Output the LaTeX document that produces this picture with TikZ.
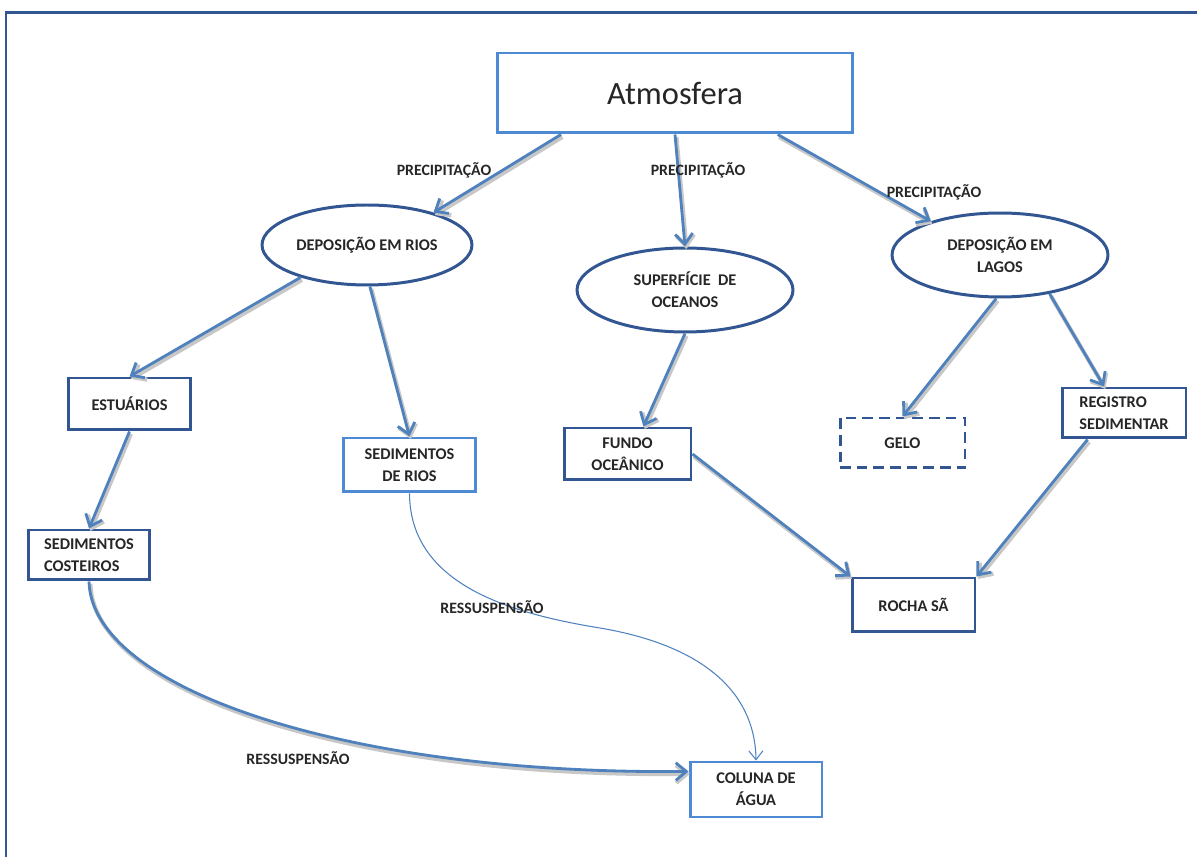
\documentclass[tikz,border=0pt]{standalone}
\usepackage{fontspec}
\setmainfont{Carlito}
\usetikzlibrary{arrows.meta,shapes.geometric}
\definecolor{azulescuro}{RGB}{50,86,146}
\definecolor{azulclaro}{RGB}{78,138,212}
\definecolor{azulseta}{RGB}{79,129,189}
\tikzset{
	caixa/.style={draw=azulescuro, line width=1.7pt, fill=white, text=black!85, align=center, inner sep=2pt, font=\bfseries\fontsize{9.3}{12.5}\selectfont},
	caixaclara/.style={caixa, draw=azulclaro},
	balao/.style={caixa, ellipse, inner sep=0pt},
	rotulo/.style={text=black!85, font=\bfseries\fontsize{9}{10}\selectfont},
	seta/.style={draw=azulseta, line width=1.6pt, -{Straight Barb[length=6pt,width=10pt]}, preaction={draw=black!22, line width=2.4pt, transform canvas={shift={(0.8pt,-1.4pt)}}}},
	setafina/.style={draw=azulseta, line width=0.6pt, -{Straight Barb[length=5pt,width=8pt]}}
}

\begin{document}
\begin{tikzpicture}[x=0.02cm, y=-0.02cm]
		%%%%% START %%%%%
		\useasboundingbox (0, 0) rectangle (1197, 857);
		\draw[azulescuro, line width=1.7pt] (6, 857) -- (6, 13) -- (1197, 13);
		
		\node[caixaclara, minimum width=7.12cm, minimum height=1.6cm, font=\fontsize{18.5}{22}\selectfont] (atm) at (675, 93) {Atmosfera};
		
		\node[balao, minimum width=4.2cm, minimum height=1.6cm] (rios) at (367, 245) {DEPOSIÇÃO EM RIOS};
		\node[balao, minimum width=4.32cm, minimum height=1.68cm] (oceano) at (685, 290) {SUPERFÍCIE~~DE\\OCEANOS};
		\node[balao, minimum width=4.32cm, minimum height=1.68cm] (lagos) at (1000, 255) {DEPOSIÇÃO EM\\LAGOS};
		
		\node[caixa, minimum width=2.46cm, minimum height=1.04cm] (estu) at (129.5, 404) {ESTUÁRIOS};
		\node[caixaclara, minimum width=2.66cm, minimum height=1.08cm] (sedrios) at (409.5, 465) {SEDIMENTOS\\DE RIOS};
		\node[caixa, minimum width=2.54cm, minimum height=1.04cm] (fundo) at (627.5, 454) {FUNDO\\OCEÂNICO};
		\node[caixa, dash pattern=on 6pt off 3.5pt, minimum width=2.5cm, minimum height=1cm] (gelo) at (902.5, 443) {GELO};
		\node[caixa, align=left, minimum width=2.48cm, minimum height=1cm] (regis) at (1124, 413) {REGISTRO\\SEDIMENTAR};
		\node[caixa, align=left, minimum width=2.44cm, minimum height=1cm] (costa) at (89, 555) {SEDIMENTOS\\COSTEIROS};
		\node[caixa, minimum width=2.46cm, minimum height=1.08cm] (rocha) at (913.5, 605) {ROCHA SÃ};
		\node[caixaclara, minimum width=2.64cm, minimum height=1.1cm] (coluna) at (756, 789.5) {COLUNA DE\\ÁGUA};
		
		% precipitacao
		\draw[seta] (atm.200) -- (rios.26);
		\draw[seta] (atm.south) -- (oceano.north);
		\draw[seta] (atm.-22) -- (lagos.154);
		\node[rotulo] (p1) at (444, 170) {PRECIPITAÇÃO};
		\node[rotulo] (p2) at (698, 170) {PRECIPITAÇÃO};
		\node[rotulo] (p3) at (934, 192) {PRECIPITAÇÃO};
		
		\draw[seta] (rios.206) -- (estu.north);
		\draw[seta] (rios.-86) -- (sedrios.north);
		\draw[seta] (oceano.south) -- (fundo.60);
		\draw[seta] (lagos.-95) -- (gelo.north);
		\draw[seta] (lagos.-38) -- (regis.127);
		\draw[seta] (estu.south) -- (costa.north);
		\draw[seta] (fundo.east) -- (rocha.north west);
		\draw[seta] (regis.216) -- (rocha.north east);
		
		% ressuspensao
		\draw[seta] (costa.south) .. controls (92, 690) and (350, 775) .. (coluna.165);
		\node[rotulo] (r1) at (298, 758) {RESSUSPENSÃO};
		\draw[setafina] (sedrios.south) .. controls (410, 580) and (500, 612) .. (600, 628) .. controls (700, 645) and (755, 690) .. (coluna.north);
		\node[rotulo] (r2) at (492, 607) {RESSUSPENSÃO};
		%%%%% END %%%%%
	\end{tikzpicture}
\end{document}
